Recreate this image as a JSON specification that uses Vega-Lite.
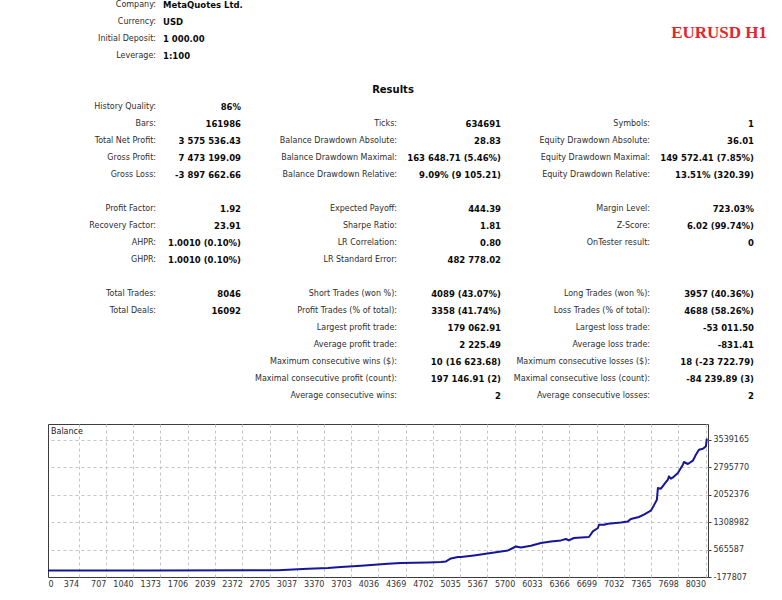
{
  "$schema": "https://vega.github.io/schema/vega-lite/v6.json",
  "padding": {"left": 47, "top": 0, "right": 0, "bottom": 0},
  "background": "white",
  "bounds": "flush",
  "spacing": 20,
  "config": {"font": "DejaVu Sans", "view": {"stroke": null}},
  "vconcat": [
    {
      "width": 735,
      "height": 404,
      "encoding": {
        "x": {"field": "col", "type": "quantitative", "axis": null,
              "scale": {"type": "linear", "domain": [0, 1, 2, 3, 4, 5], "range": [108, 193, 349, 453, 602, 706], "nice": false, "zero": false}},
        "y": {"field": "row", "type": "quantitative", "axis": null,
              "scale": {"domain": [0, 23], "range": [5, 396], "nice": false, "zero": false}},
        "text": {"field": "t", "type": "nominal"}
      },
      "layer": [
        {
          "data": {"values": [
            {"row": 0, "col": 0, "t": "Company:"},
            {"row": 1, "col": 0, "t": "Currency:"},
            {"row": 2, "col": 0, "t": "Initial Deposit:"},
            {"row": 3, "col": 0, "t": "Leverage:"},
            {"row": 6, "col": 0, "t": "History Quality:"},
            {"row": 7, "col": 0, "t": "Bars:"},
            {"row": 7, "col": 2, "t": "Ticks:"},
            {"row": 7, "col": 4, "t": "Symbols:"},
            {"row": 8, "col": 0, "t": "Total Net Profit:"},
            {"row": 8, "col": 2, "t": "Balance Drawdown Absolute:"},
            {"row": 8, "col": 4, "t": "Equity Drawdown Absolute:"},
            {"row": 9, "col": 0, "t": "Gross Profit:"},
            {"row": 9, "col": 2, "t": "Balance Drawdown Maximal:"},
            {"row": 9, "col": 4, "t": "Equity Drawdown Maximal:"},
            {"row": 10, "col": 0, "t": "Gross Loss:"},
            {"row": 10, "col": 2, "t": "Balance Drawdown Relative:"},
            {"row": 10, "col": 4, "t": "Equity Drawdown Relative:"},
            {"row": 12, "col": 0, "t": "Profit Factor:"},
            {"row": 12, "col": 2, "t": "Expected Payoff:"},
            {"row": 12, "col": 4, "t": "Margin Level:"},
            {"row": 13, "col": 0, "t": "Recovery Factor:"},
            {"row": 13, "col": 2, "t": "Sharpe Ratio:"},
            {"row": 13, "col": 4, "t": "Z-Score:"},
            {"row": 14, "col": 0, "t": "AHPR:"},
            {"row": 14, "col": 2, "t": "LR Correlation:"},
            {"row": 14, "col": 4, "t": "OnTester result:"},
            {"row": 15, "col": 0, "t": "GHPR:"},
            {"row": 15, "col": 2, "t": "LR Standard Error:"},
            {"row": 17, "col": 0, "t": "Total Trades:"},
            {"row": 17, "col": 2, "t": "Short Trades (won %):"},
            {"row": 17, "col": 4, "t": "Long Trades (won %):"},
            {"row": 18, "col": 0, "t": "Total Deals:"},
            {"row": 18, "col": 2, "t": "Profit Trades (% of total):"},
            {"row": 18, "col": 4, "t": "Loss Trades (% of total):"},
            {"row": 19, "col": 2, "t": "Largest profit trade:"},
            {"row": 19, "col": 4, "t": "Largest loss trade:"},
            {"row": 20, "col": 2, "t": "Average profit trade:"},
            {"row": 20, "col": 4, "t": "Average loss trade:"},
            {"row": 21, "col": 2, "t": "Maximum consecutive wins ($):"},
            {"row": 21, "col": 4, "t": "Maximum consecutive losses ($):"},
            {"row": 22, "col": 2, "t": "Maximal consecutive profit (count):"},
            {"row": 22, "col": 4, "t": "Maximal consecutive loss (count):"},
            {"row": 23, "col": 2, "t": "Average consecutive wins:"},
            {"row": 23, "col": 4, "t": "Average consecutive losses:"}
          ]},
          "mark": {"type": "text", "align": "right", "baseline": "middle", "fontSize": 8, "color": "#2e2e2e"}
        },
        {
          "data": {"values": [
            {"row": 6, "col": 1, "t": "86%"},
            {"row": 7, "col": 1, "t": "161986"},
            {"row": 7, "col": 3, "t": "634691"},
            {"row": 7, "col": 5, "t": "1"},
            {"row": 8, "col": 1, "t": "3 575 536.43"},
            {"row": 8, "col": 3, "t": "28.83"},
            {"row": 8, "col": 5, "t": "36.01"},
            {"row": 9, "col": 1, "t": "7 473 199.09"},
            {"row": 9, "col": 3, "t": "163 648.71 (5.46%)"},
            {"row": 9, "col": 5, "t": "149 572.41 (7.85%)"},
            {"row": 10, "col": 1, "t": "-3 897 662.66"},
            {"row": 10, "col": 3, "t": "9.09% (9 105.21)"},
            {"row": 10, "col": 5, "t": "13.51% (320.39)"},
            {"row": 12, "col": 1, "t": "1.92"},
            {"row": 12, "col": 3, "t": "444.39"},
            {"row": 12, "col": 5, "t": "723.03%"},
            {"row": 13, "col": 1, "t": "23.91"},
            {"row": 13, "col": 3, "t": "1.81"},
            {"row": 13, "col": 5, "t": "6.02 (99.74%)"},
            {"row": 14, "col": 1, "t": "1.0010 (0.10%)"},
            {"row": 14, "col": 3, "t": "0.80"},
            {"row": 14, "col": 5, "t": "0"},
            {"row": 15, "col": 1, "t": "1.0010 (0.10%)"},
            {"row": 15, "col": 3, "t": "482 778.02"},
            {"row": 17, "col": 1, "t": "8046"},
            {"row": 17, "col": 3, "t": "4089 (43.07%)"},
            {"row": 17, "col": 5, "t": "3957 (40.36%)"},
            {"row": 18, "col": 1, "t": "16092"},
            {"row": 18, "col": 3, "t": "3358 (41.74%)"},
            {"row": 18, "col": 5, "t": "4688 (58.26%)"},
            {"row": 19, "col": 3, "t": "179 062.91"},
            {"row": 19, "col": 5, "t": "-53 011.50"},
            {"row": 20, "col": 3, "t": "2 225.49"},
            {"row": 20, "col": 5, "t": "-831.41"},
            {"row": 21, "col": 3, "t": "10 (16 623.68)"},
            {"row": 21, "col": 5, "t": "18 (-23 722.79)"},
            {"row": 22, "col": 3, "t": "197 146.91 (2)"},
            {"row": 22, "col": 5, "t": "-84 239.89 (3)"},
            {"row": 23, "col": 3, "t": "2"},
            {"row": 23, "col": 5, "t": "2"}
          ]},
          "mark": {"type": "text", "align": "right", "baseline": "middle", "fontSize": 8.5, "fontWeight": "bold", "color": "#0a0a0a"}
        },
        {
          "data": {"values": [
            {"row": 0, "col": 0, "t": "MetaQuotes Ltd."},
            {"row": 1, "col": 0, "t": "USD"},
            {"row": 2, "col": 0, "t": "1 000.00"},
            {"row": 3, "col": 0, "t": "1:100"}
          ]},
          "mark": {"type": "text", "align": "left", "baseline": "middle", "dx": 7, "fontSize": 8.5, "fontWeight": "bold", "color": "#0a0a0a"}
        },
        {
          "data": {"values": [{"row": 5, "col": 2, "t": "Results"}]},
          "mark": {"type": "text", "align": "center", "baseline": "middle", "dx": -4, "fontSize": 10, "fontWeight": "bold", "color": "#0a0a0a"}
        },
        {
          "data": {"values": [{"row": 2, "col": 5, "t": "EURUSD H1"}]},
          "mark": {"type": "text", "align": "right", "baseline": "middle", "dx": 13, "dy": -6, "font": "Liberation Serif", "fontSize": 17, "fontWeight": "bold", "color": "#e3252e"}
        }
      ]
    },
    {
      "width": 660,
      "height": 153,
      "view": {"stroke": "#3c3c3c", "strokeWidth": 1},
      "layer": [
        {
          "data": {"values": [
            {"trade": 0, "balance": 1000}, {"trade": 1250, "balance": 1300}, {"trade": 2500, "balance": 3500},
            {"trade": 2808, "balance": 6700}, {"trade": 3175, "balance": 47400}, {"trade": 3419, "balance": 66400},
            {"trade": 3578, "balance": 93500}, {"trade": 3822, "balance": 128800}, {"trade": 4151, "balance": 183000},
            {"trade": 4310, "balance": 202000}, {"trade": 4640, "balance": 218300}, {"trade": 4799, "balance": 229200},
            {"trade": 4860, "balance": 245400}, {"trade": 4921, "balance": 326800}, {"trade": 5006, "balance": 364800},
            {"trade": 5043, "balance": 364800}, {"trade": 5201, "balance": 408200}, {"trade": 5409, "balance": 473300},
            {"trade": 5617, "balance": 543900}, {"trade": 5678, "balance": 609000}, {"trade": 5714, "balance": 652400},
            {"trade": 5775, "balance": 625300}, {"trade": 5897, "balance": 671400}, {"trade": 6020, "balance": 744600},
            {"trade": 6142, "balance": 788100}, {"trade": 6264, "balance": 815200}, {"trade": 6325, "balance": 853200},
            {"trade": 6361, "balance": 815200}, {"trade": 6422, "balance": 880300}, {"trade": 6606, "balance": 907400},
            {"trade": 6654, "balance": 1059400}, {"trade": 6716, "balance": 1151600}, {"trade": 6728, "balance": 1241100},
            {"trade": 6789, "balance": 1241100}, {"trade": 6838, "balance": 1268300}, {"trade": 6996, "balance": 1303500},
            {"trade": 7082, "balance": 1330700}, {"trade": 7118, "balance": 1395800}, {"trade": 7216, "balance": 1450100},
            {"trade": 7277, "balance": 1512500}, {"trade": 7362, "balance": 1621000}, {"trade": 7399, "balance": 1764800},
            {"trade": 7436, "balance": 1919400}, {"trade": 7448, "balance": 2236900}, {"trade": 7485, "balance": 2217900},
            {"trade": 7522, "balance": 2326400}, {"trade": 7570, "balance": 2462000}, {"trade": 7583, "balance": 2551600},
            {"trade": 7607, "balance": 2489200}, {"trade": 7632, "balance": 2524400}, {"trade": 7692, "balance": 2643800},
            {"trade": 7753, "balance": 2869000}, {"trade": 7766, "balance": 2942300}, {"trade": 7814, "balance": 2888000},
            {"trade": 7875, "balance": 2977500}, {"trade": 7912, "balance": 3140300}, {"trade": 7949, "balance": 3276000},
            {"trade": 7998, "balance": 3303100}, {"trade": 8034, "balance": 3365500}, {"trade": 8046, "balance": 3576536}
          ]},
          "mark": {"type": "line", "color": "#16169a", "strokeWidth": 2, "strokeJoin": "round", "interpolate": "linear", "clip": true},
          "encoding": {
            "x": {"field": "trade", "type": "quantitative",
                  "scale": {"domain": [0, 8060], "nice": false, "zero": false},
                  "axis": {"title": null, "orient": "bottom", "tickCount": 200,
                           "values": [0, 374, 707, 1040, 1373, 1706, 2039, 2372, 2705, 3037, 3370, 3703, 4036, 4369, 4702, 5035, 5367, 5700, 6033, 6366, 6699, 7032, 7365, 7698, 8030],
                           "labelExpr": "datum.value + ''",
                           "labelAlign": {"condition": {"test": "datum.value === 0", "value": "left"}, "value": "right"},
                           "labelOverlap": false, "labelFlush": false, "labelBound": false,
                           "labelFontSize": 8, "labelColor": "#333333", "labelPadding": 3, "labelBaseline": "top",
                           "ticks": false, "domain": false,
                           "grid": true, "gridColor": "#c4c4c4", "gridDash": [3, 3], "gridWidth": 1,
                           "gridOpacity": {"condition": {"test": "datum.value === 0", "value": 0}, "value": 1}}},
            "y": {"field": "balance", "type": "quantitative",
                  "scale": {"domain": [-177807, 3973000], "nice": false, "zero": false},
                  "axis": {"title": null, "orient": "right", "tickCount": 200,
                           "values": [-177807, 565587, 1308982, 2052376, 2795770, 3539165],
                           "labelExpr": "datum.value + ''",
                           "labelOverlap": false, "labelFlush": false, "labelBound": false,
                           "labelFontSize": 8, "labelColor": "#333333", "labelPadding": 2, "labelAlign": "left", "labelBaseline": "middle",
                           "ticks": true, "tickSize": 3, "tickColor": "#3c3c3c", "domain": false,
                           "grid": true, "gridColor": "#c4c4c4", "gridDash": [3, 3], "gridWidth": 1,
                           "gridOpacity": {"condition": {"test": "datum.value < 0", "value": 0}, "value": 1}}}
          }
        },
        {
          "data": {"values": [{"name": "Balance"}]},
          "mark": {"type": "text", "align": "left", "baseline": "middle", "dx": 3, "dy": 8, "fontSize": 8, "color": "#222222"},
          "encoding": {
            "x": {"datum": 0, "type": "quantitative"},
            "y": {"datum": 3973000, "type": "quantitative"},
            "text": {"field": "name", "type": "nominal"}
          }
        }
      ]
    }
  ]
}
